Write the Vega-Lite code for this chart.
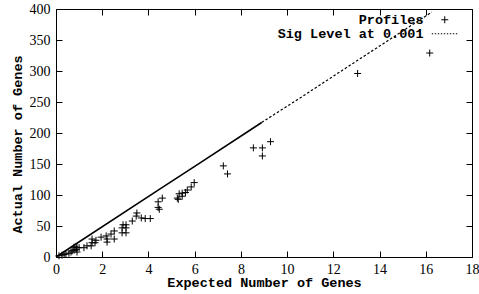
{
  "$schema": "https://vega.github.io/schema/vega-lite/v6.json",
  "autosize": "none",
  "width": 416,
  "height": 248,
  "padding": {"left": 56, "top": 9, "right": 7, "bottom": 37},
  "background": "white",
  "config": {
    "view": {"stroke": null},
    "axis": {
      "domainColor": "black", "tickColor": "black", "labelColor": "black", "titleColor": "black",
      "grid": false, "labelFont": "'Liberation Serif', 'DejaVu Serif', serif", "labelFontSize": 14,
      "titleFont": "Liberation Mono", "titleFontSize": 13.5, "titleFontWeight": "bold",
      "tickSize": -6, "domainWidth": 1, "tickWidth": 1, "labelFlush": false, "labelOverlap": false
    }
  },
  "datasets": {
    "profiles": [
      {"expected": 16.17, "actual": 329, "series": "Profiles"},
      {"expected": 13.05, "actual": 296, "series": "Profiles"},
      {"expected": 9.28, "actual": 186, "series": "Profiles"},
      {"expected": 8.93, "actual": 176, "series": "Profiles"},
      {"expected": 8.93, "actual": 163, "series": "Profiles"},
      {"expected": 8.54, "actual": 176, "series": "Profiles"},
      {"expected": 7.42, "actual": 134, "series": "Profiles"},
      {"expected": 7.24, "actual": 147, "series": "Profiles"},
      {"expected": 5.98, "actual": 120, "series": "Profiles"},
      {"expected": 5.85, "actual": 113, "series": "Profiles"},
      {"expected": 5.68, "actual": 108, "series": "Profiles"},
      {"expected": 5.6, "actual": 104, "series": "Profiles"},
      {"expected": 5.46, "actual": 103, "series": "Profiles"},
      {"expected": 5.33, "actual": 102, "series": "Profiles"},
      {"expected": 5.46, "actual": 98, "series": "Profiles"},
      {"expected": 5.25, "actual": 95, "series": "Profiles"},
      {"expected": 5.29, "actual": 93, "series": "Profiles"},
      {"expected": 4.6, "actual": 95, "series": "Profiles"},
      {"expected": 4.42, "actual": 89, "series": "Profiles"},
      {"expected": 4.47, "actual": 77, "series": "Profiles"},
      {"expected": 4.42, "actual": 80, "series": "Profiles"},
      {"expected": 4.08, "actual": 62, "series": "Profiles"},
      {"expected": 3.86, "actual": 62, "series": "Profiles"},
      {"expected": 3.69, "actual": 63, "series": "Profiles"},
      {"expected": 3.5, "actual": 71, "series": "Profiles"},
      {"expected": 3.47, "actual": 66, "series": "Profiles"},
      {"expected": 3.3, "actual": 58, "series": "Profiles"},
      {"expected": 3.03, "actual": 52, "series": "Profiles"},
      {"expected": 2.9, "actual": 52, "series": "Profiles"},
      {"expected": 3.03, "actual": 47, "series": "Profiles"},
      {"expected": 2.86, "actual": 47, "series": "Profiles"},
      {"expected": 2.86, "actual": 39, "series": "Profiles"},
      {"expected": 3.03, "actual": 39, "series": "Profiles"},
      {"expected": 2.52, "actual": 42, "series": "Profiles"},
      {"expected": 2.38, "actual": 37, "series": "Profiles"},
      {"expected": 2.17, "actual": 34, "series": "Profiles"},
      {"expected": 2.21, "actual": 29, "series": "Profiles"},
      {"expected": 2.52, "actual": 29, "series": "Profiles"},
      {"expected": 2.21, "actual": 24, "series": "Profiles"},
      {"expected": 1.95, "actual": 32, "series": "Profiles"},
      {"expected": 1.73, "actual": 27, "series": "Profiles"},
      {"expected": 1.56, "actual": 29, "series": "Profiles"},
      {"expected": 1.69, "actual": 23, "series": "Profiles"},
      {"expected": 1.56, "actual": 23, "series": "Profiles"},
      {"expected": 1.52, "actual": 18, "series": "Profiles"},
      {"expected": 1.34, "actual": 18, "series": "Profiles"},
      {"expected": 1.21, "actual": 15, "series": "Profiles"},
      {"expected": 1.0, "actual": 15, "series": "Profiles"},
      {"expected": 0.87, "actual": 16, "series": "Profiles"},
      {"expected": 0.78, "actual": 11, "series": "Profiles"},
      {"expected": 0.91, "actual": 8, "series": "Profiles"},
      {"expected": 0.65, "actual": 8, "series": "Profiles"},
      {"expected": 0.56, "actual": 6, "series": "Profiles"},
      {"expected": 0.43, "actual": 5, "series": "Profiles"},
      {"expected": 0.26, "actual": 3, "series": "Profiles"},
      {"expected": 0.13, "actual": 2, "series": "Profiles"},
      {"expected": 0.78, "actual": 16, "series": "Profiles"},
      {"expected": 0.91, "actual": 15, "series": "Profiles"},
      {"expected": 0.87, "actual": 12, "series": "Profiles"},
      {"expected": 0.7, "actual": 10, "series": "Profiles"},
      {"expected": 0.35, "actual": 4, "series": "Profiles"}
    ],
    "sig": [
      {"expected": 0, "actual": 0},
      {"expected": 4.47, "actual": 109},
      {"expected": 6.2, "actual": 151},
      {"expected": 8.9, "actual": 217},
      {"expected": 10.54, "actual": 256},
      {"expected": 13.0, "actual": 316},
      {"expected": 16.26, "actual": 395}
    ]
  },
  "layer": [
    {
      "data": {"name": "sig"},
      "transform": [{"filter": "datum.expected <= 8.9"}],
      "mark": {"type": "line", "color": "black", "strokeWidth": 1.6},
      "encoding": {
        "x": {"field": "expected", "type": "quantitative", "scale": {"domain": [0, 18], "nice": false},
              "axis": {"orient": "top", "labels": false, "title": null, "values": [0, 2, 4, 6, 8, 10, 12, 14, 16, 18]}},
        "y": {"field": "actual", "type": "quantitative", "scale": {"domain": [0, 400], "nice": false},
              "axis": {"orient": "right", "labels": false, "title": null, "values": [0, 50, 100, 150, 200, 250, 300, 350, 400]}}
      }
    },
    {
      "data": {"name": "sig"},
      "transform": [{"filter": "datum.expected >= 8.9"}],
      "mark": {"type": "line", "color": "black", "strokeWidth": 1.2, "strokeDash": [2.5, 2]},
      "encoding": {
        "x": {"field": "expected", "type": "quantitative", "axis": null},
        "y": {"field": "actual", "type": "quantitative", "axis": null}
      }
    },
    {
      "data": {"name": "profiles"},
      "mark": {"type": "point", "filled": false, "stroke": "black", "strokeWidth": 1, "size": 49, "opacity": 1},
      "encoding": {
        "x": {"field": "expected", "type": "quantitative",
              "axis": {"orient": "bottom", "title": "Expected Number of Genes", "values": [0, 2, 4, 6, 8, 10, 12, 14, 16, 18],
                       "labelBaseline": "alphabetic", "labelPadding": 22, "titleY": 29, "titleBaseline": "alphabetic"}},
        "y": {"field": "actual", "type": "quantitative",
              "axis": {"orient": "left", "title": "Actual Number of Genes", "values": [0, 50, 100, 150, 200, 250, 300, 350, 400],
                       "labelPadding": 12, "titleX": -35, "titleY": 135, "titleBaseline": "alphabetic", "titleAngle": -90}},
        "shape": {
          "field": "series", "type": "nominal",
          "scale": {"domain": ["Profiles", "Sig Level at 0.001"],
                    "range": ["M-1,0H1M0,-1V1", "M-3.7,0h0.4M-2.84,0h0.4M-1.98,0h0.4M-1.12,0h0.4M-0.26,0h0.4M0.6,0h0.4M1.46,0h0.4M2.32,0h0.4M3.18,0h0.4"]},
          "legend": {
            "orient": "none", "legendX": 382, "legendY": 4, "title": null, "padding": 0,
            "labelFont": "Liberation Mono", "labelFontSize": 13.5, "labelFontWeight": "bold", "labelColor": "black",
            "labelAlign": "right", "labelOffset": -28, "labelLimit": 300,
            "symbolSize": 49, "symbolStrokeColor": "black", "symbolFillColor": "transparent", "symbolStrokeWidth": 1,
            "rowPadding": -1
          }
        }
      }
    }
  ],
  "resolve": {"axis": {"x": "independent", "y": "independent"}}
}
